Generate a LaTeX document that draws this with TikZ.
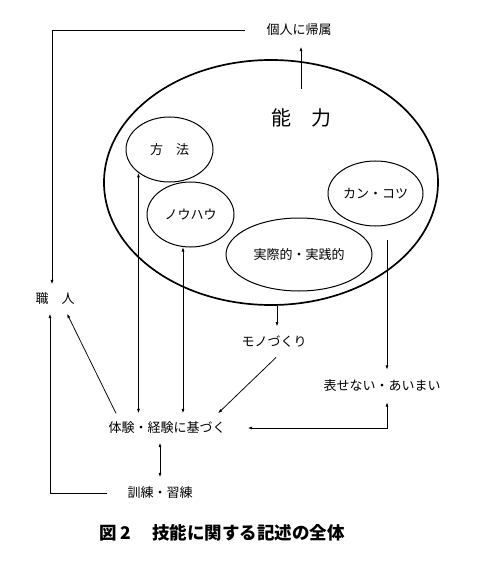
\documentclass[tikz,border=0pt]{standalone}
\usepackage{fontspec}
\setmainfont{Noto Sans CJK JP}
\usetikzlibrary{shapes.geometric,arrows.meta,calc}
\tikzset{
  txt/.style={font=\fontsize{13}{15}\selectfont, inner xsep=2pt},
  ell/.style={draw, ellipse, inner sep=0pt, line width=1pt, font=\fontsize{13}{15}\selectfont},
  bigell/.style={draw, ellipse, inner sep=0pt, line width=1.7pt},
  conn/.style={line width=0.75pt},
  arr/.style={conn, -{Latex[length=4.5pt,width=3pt]}},
  darr/.style={conn, {Latex[length=4.5pt,width=3pt]}-{Latex[length=4.5pt,width=3pt]}},
}
\begin{document}
\begin{tikzpicture}[x=1pt,y=-1pt]
\useasboundingbox (0,0) rectangle (494,564);
% nodes
\node[bigell, minimum width=334pt, minimum height=245pt] (big) at (271,182.5) {};
\node[font=\fontsize{20}{22}\selectfont, inner ysep=20pt] (noryoku) at (301,118) {能　力};
\node[ell, minimum width=87pt, minimum height=65pt] (hoho) at (169.5,149.5) {方　法};
\node[ell, minimum width=87pt, minimum height=65pt] (nouhau) at (190.5,214.5) {ノウハウ};
\node[ell, minimum width=95pt, minimum height=65pt] (kotsu) at (375.5,193.5) {カン・コツ};
\node[ell, minimum width=146pt, minimum height=73pt] (jissai) at (299,254.5) {実際的・実践的};
\node[txt, inner xsep=21pt, inner ysep=10.5pt] (kojin) at (299,30) {個人に帰属};
\node[txt, inner ysep=8.5pt] (shokunin) at (55,299) {職　人};
\node[txt, inner ysep=9.5pt] (mono) at (274,342) {モノづくり};
\node[txt, inner ysep=10pt] (hyou) at (382,386) {表せない・あいまい};
\node[txt, inner xsep=22pt, inner ysep=8.5pt] (taiken) at (167,428) {体験・経験に基づく};
\node[txt, inner xsep=20pt, inner ysep=9.5pt] (kunren) at (160,493) {訓練・習練};
\node[font=\bfseries\fontsize{17.5}{20}\selectfont] (caption) at (222,533) {図 2\hspace{1.2em}技能に関する記述の全体};
\coordinate (tl) at (52,30);
\coordinate (kfree) at (387,240);
% connectors
\draw[arr] (kojin.west) -- (tl) -- (tl |- shokunin.north);
\draw[arr] (noryoku.north) -- (noryoku.north |- kojin.south);
\draw[darr] (hoho.217) -- (hoho.217 |- taiken.north);
\draw[darr] (nouhau.257) -- (nouhau.257 |- taiken.north);
\draw[arr] ([xshift=3pt]mono.north |- big.south) -- ([xshift=3pt]mono.north);
\draw[arr] ([xshift=2pt]mono.south) -- ([xshift=51pt]taiken.north);
\draw[arr] ([xshift=-51pt]taiken.north) -- ([xshift=12pt]shokunin.south);
\draw[arr] (kfree) -- (kfree |- hyou.north);
\draw[darr] (taiken.east) -| (kfree |- hyou.south);
\draw[darr] (kunren.north |- taiken.south) -- (kunren.north);
\draw[arr] (kunren.west) -| ([xshift=-5pt]shokunin.south);
\end{tikzpicture}
\end{document}
